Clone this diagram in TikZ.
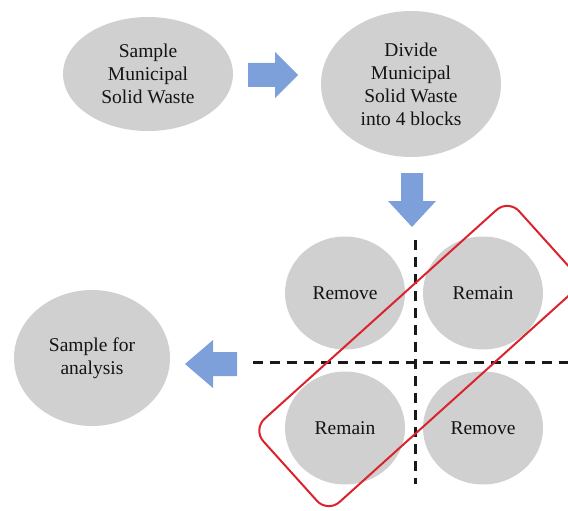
\documentclass[tikz,border=0pt]{standalone}
\usepackage{fontspec}
\setmainfont{Liberation Serif}
\usetikzlibrary{shapes.geometric}
\definecolor{blobgray}{RGB}{208,208,208}
\definecolor{arrowblue}{RGB}{125,160,218}
\definecolor{framered}{RGB}{218,35,45}
\definecolor{txt}{RGB}{20,20,20}
\begin{document}
\begin{tikzpicture}[x=1pt,y=-1pt,
  blob/.style={ellipse, fill=blobgray, draw=none, inner sep=0pt, align=center, text=txt,
    font=\fontsize{19.5}{23}\selectfont},
  quad/.style={blob, minimum width=120pt, minimum height=113pt},
  blockarrow/.style={fill=arrowblue, draw=none},
  cutline/.style={dash pattern=on 10pt off 7pt, line width=3pt, black!90},
  selframe/.style={rectangle, draw=framered, line width=2pt, rounded corners=16pt, fill=none}]
\useasboundingbox (0,0) rectangle (568,511);
\clip (0,0) rectangle (568,511);

% ellipses
\node[blob, minimum width=170pt, minimum height=114pt] (msw) at (148,74) {Sample\\Municipal\\Solid Waste};
\node[blob, minimum width=180pt, minimum height=146pt] (divide) at (411,84) {Divide\\Municipal\\Solid Waste\\into 4 blocks};
\node[blob, minimum width=156pt, minimum height=136pt] (analysis) at (92,358) {Sample for\\analysis};

% quadrants
\node[quad] (tl) at (345,293) {Remove};
\node[quad] (tr) at (483,293) {Remain};
\node[quad] (bl) at (345,428) {Remain};
\node[quad] (br) at (483,428) {Remove};

% block arrows
\fill[blockarrow] (248,63) -- (275,63) -- (275,52) -- (298,75) -- (275,98) -- (275,87) -- (248,87) -- cycle;
\fill[blockarrow] (401,173) -- (423,173) -- (423,201) -- (436,201) -- (412,227) -- (388,201) -- (401,201) -- cycle;
\fill[blockarrow] (237,352) -- (213,352) -- (213,340) -- (185,364) -- (213,388) -- (213,376) -- (237,376) -- cycle;

% cutting lines
\coordinate (vtop) at (415,240);
\coordinate (vbot) at (415,484);
\coordinate (hleft) at (253,362);
\coordinate (hright) at (570,362);
\draw[cutline] (vtop) -- (vbot);
\draw[cutline] (hleft) -- (hright);

% selection frame
\node[selframe, minimum width=344pt, minimum height=112pt, rotate=42] (frame) at (418,356) {};
\end{tikzpicture}
\end{document}
